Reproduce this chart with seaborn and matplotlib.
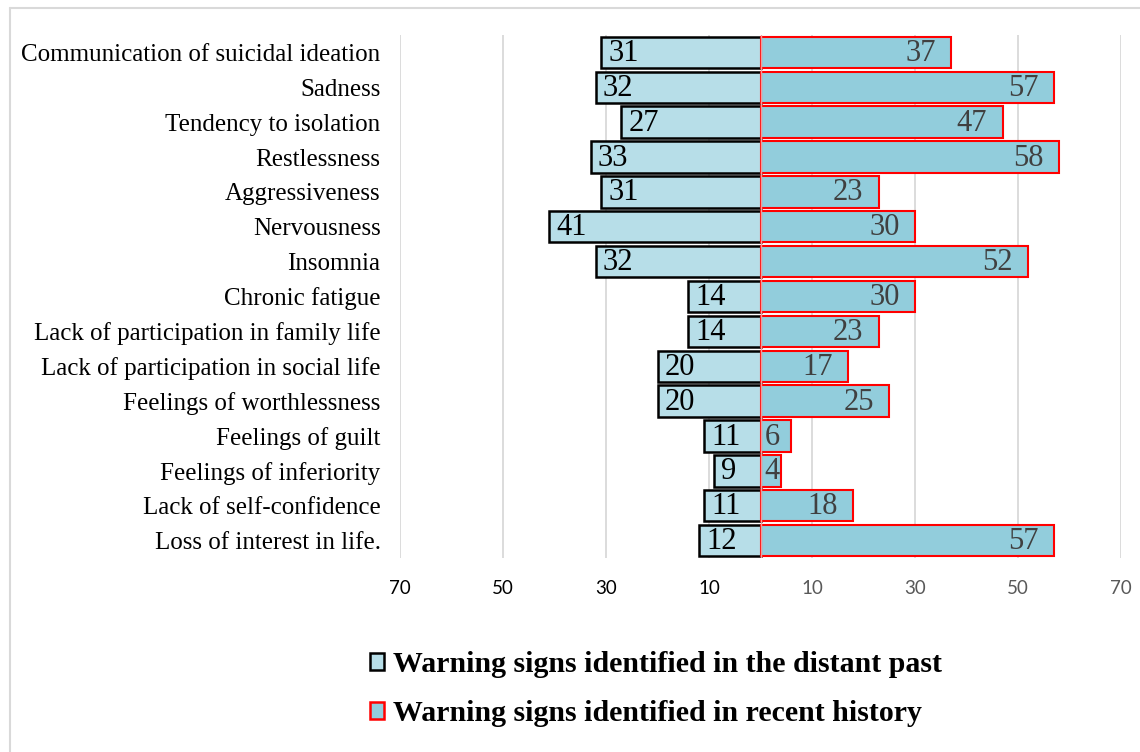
import matplotlib
matplotlib.use("Agg")
import matplotlib.pyplot as plt
from matplotlib.patches import Patch
from matplotlib.lines import Line2D
import seaborn as sns
import pandas as pd

categories = [
    "Communication of suicidal ideation",
    "Sadness",
    "Tendency to isolation",
    "Restlessness",
    "Aggressiveness",
    "Nervousness",
    "Insomnia",
    "Chronic fatigue",
    "Lack of participation in family life",
    "Lack of participation in social life",
    "Feelings of worthlessness",
    "Feelings of guilt",
    "Feelings of inferiority",
    "Lack of self-confidence",
    "Loss of interest in life.",
]
distant_past = [31, 32, 27, 33, 31, 41, 32, 14, 14, 20, 20, 11, 9, 11, 12]
recent_history = [37, 57, 47, 58, 23, 30, 52, 30, 23, 17, 25, 6, 4, 18, 57]
tick_values = [-70, -50, -30, -10, 10, 30, 50, 70]
series_names = ["Warning signs identified in the distant past",
                "Warning signs identified in recent history"]

df = pd.DataFrame({
    "sign": categories,
    "past": [-v for v in distant_past],
    "recent": recent_history,
})

sns.set_theme(style="white")
plt.rcParams["font.family"] = ["Liberation Serif", "DejaVu Serif"]
plt.rcParams["text.color"] = "black"
plt.rcParams["axes.labelcolor"] = "black"
plt.rcParams["xtick.color"] = "black"
plt.rcParams["ytick.color"] = "black"

fig = plt.figure(figsize=(11.4, 7.52), dpi=100)
ax = fig.add_axes([400 / 1140, 1 - 558 / 752, 721 / 1140, 523 / 752])

past_color, recent_color = "#B7DEE8", "#92CDDC"

sns.barplot(data=df, x="past", y="sign", order=categories, orient="h",
            color=past_color, edgecolor="black", linewidth=1.8,
            width=0.9, saturation=1, ax=ax, zorder=3)
sns.barplot(data=df, x="recent", y="sign", order=categories, orient="h",
            color=recent_color, edgecolor="#FF0000", linewidth=1.5,
            width=0.9, saturation=1, ax=ax, zorder=3)

ax.set_xlim(-70, 70)
ax.set_ylim(len(categories) - 0.5, -0.5)
ax.axvline(0, color="#F29A9A", lw=1.0, zorder=4)

# value labels inside the bar ends
for i, (p, r) in enumerate(zip(distant_past, recent_history)):
    ax.text(-p + 1.4, i + 0.03, str(p), ha="left", va="center", fontsize=22,
            color="black", zorder=5)
    if r > 8:
        ax.text(r - 3.0, i + 0.03, str(r), ha="right", va="center", fontsize=22,
                color="#404040", zorder=5)
    else:
        ax.text(0.8, i + 0.03, str(r), ha="left", va="center", fontsize=22,
                color="#404040", zorder=5)

ax.set_xticks(tick_values)
ax.set_xticklabels([str(abs(v)) for v in tick_values],
                   fontfamily="Lato", fontsize=13.5)
for lab, v in zip(ax.get_xticklabels(), tick_values):
    lab.set_color("black" if v < 0 else "#595959")
ax.tick_params(axis="x", length=0, pad=16)
ax.tick_params(axis="y", length=0, pad=14, labelsize=18, labelcolor="black")
ax.xaxis.grid(True, color="#D9D9D9", lw=1.3, zorder=0)
ax.yaxis.grid(False)
ax.set_axisbelow(True)
for s in ax.spines.values():
    s.set_visible(False)
ax.set_xlabel("")
ax.set_ylabel("")

handles = [Patch(facecolor=past_color, edgecolor="black", linewidth=1.8),
           Patch(facecolor=recent_color, edgecolor="#FF0000", linewidth=1.8)]
leg = fig.legend(handles, series_names, loc="center",
                 bbox_to_anchor=(656 / 1140, 1 - 689 / 752), frameon=False,
                 prop={"family": "Liberation Serif", "weight": "bold", "size": 21.5},
                 handlelength=0.5, handleheight=0.5, handletextpad=0.3,
                 labelspacing=0.75, borderaxespad=0)
for t in leg.get_texts():
    t.set_color("black")

# chart frame on top and left
fig.add_artist(Line2D([10 / 1140, 1], [1 - 8 / 752, 1 - 8 / 752],
                      transform=fig.transFigure, color="#D9D9D9", lw=1.5))
fig.add_artist(Line2D([10 / 1140, 10 / 1140], [0, 1 - 8 / 752],
                      transform=fig.transFigure, color="#D9D9D9", lw=1.5))

fig.savefig("out.png", dpi=100)
